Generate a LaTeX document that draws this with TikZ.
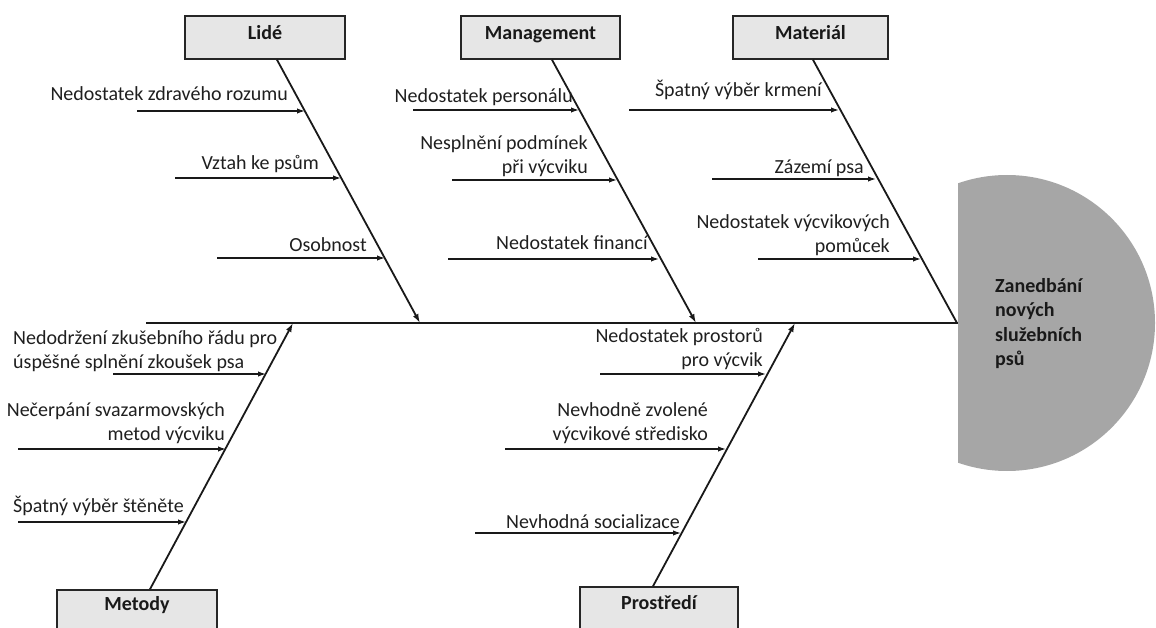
\documentclass[tikz,border=0pt]{standalone}
\usepackage{fontspec}
\setmainfont{Carlito}
\usetikzlibrary{arrows.meta}
\definecolor{boxgray}{HTML}{E6E6E6}
\definecolor{headgray}{HTML}{A6A6A6}
\newcommand{\rtwo}[2]{\begin{tabular}[t]{@{}r@{}}#1\\#2\end{tabular}}
\newcommand{\ltwo}[2]{\begin{tabular}[t]{@{}l@{}}#1\\#2\end{tabular}}
\begin{document}
\begin{tikzpicture}[x=1pt,y=-1pt,
  txt/.style={font=\fontsize{20}{24}\selectfont, inner sep=0pt, text=black!88},
  catbox/.style={draw=black!85, line width=1.6pt, fill=boxgray, inner sep=0pt,
    minimum height=43pt, font=\fontsize{20}{24}\selectfont\bfseries, text=black!90},
  topbox/.style={catbox, text height=12pt, text depth=7pt},
  botbox/.style={catbox, minimum height=44pt, text height=12pt, text depth=16pt},
  bone/.style={line width=1.8pt, draw=black!90},
  bonearr/.style={bone, -{Latex[length=9pt,width=6pt]}},
  sub/.style={line width=1.5pt, draw=black!90, -{Latex[length=8pt,width=5.5pt]}}]
\useasboundingbox (0,0) rectangle (1156,628);
\clip (0,0) rectangle (1156,628);

% category boxes
\node[topbox, minimum width=160pt] (lide) at (265,37.5) {Lidé};
\node[topbox, minimum width=159pt] (mgmt) at (540.5,37.5) {Management};
\node[topbox, minimum width=155pt] (mat) at (810.5,37.5) {Materiál};
\node[botbox, minimum width=160pt] (met) at (137,612) {Metody};
\node[botbox, minimum width=158pt, text depth=12pt] (pro) at (659,609) {Prostředí};

% spine
\coordinate (tail) at (146,323);
\coordinate (headw) at (958,323);
\draw[bone] (tail) -- (headw);

% bone ends on the spine
\coordinate (lend) at (420,323);
\coordinate (gend) at (696,323);
\coordinate (mend) at (957,323);
\coordinate (tend) at (293,323);
\coordinate (pend) at (795,323);
\draw[bonearr] ([xshift=12pt]lide.south) -- (lend);
\draw[bonearr] ([xshift=11.5pt]mgmt.south) -- (gend);
\draw[bone] ([xshift=2.5pt]mat.south) -- (mend);
\draw[bonearr] ([xshift=13pt]met.north) -- (tend);
\draw[bonearr] ([xshift=-6pt]pro.north) -- (pend);

% Lidé causes
\coordinate (a1s) at (137,111); \coordinate (a1e) at (305,111);
\coordinate (a2s) at (175,178); \coordinate (a2e) at (341,178);
\coordinate (a3s) at (217,258); \coordinate (a3e) at (385,258);
\draw[sub] (a1s) -- (a1e);
\draw[sub] (a2s) -- (a2e);
\draw[sub] (a3s) -- (a3e);
\node[txt, anchor=base east] (ta1) at (288,100.5) {Nedostatek zdravého rozumu};
\node[txt, anchor=base east] (ta2) at (319,170) {Vztah ke psům};
\node[txt, anchor=base east] (ta3) at (367,251.5) {Osobnost};

% Management causes
\coordinate (b1s) at (413,110); \coordinate (b1e) at (579,110);
\coordinate (b2s) at (452,180); \coordinate (b2e) at (617,180);
\coordinate (b3s) at (448,259); \coordinate (b3e) at (659,259);
\draw[sub] (b1s) -- (b1e);
\draw[sub] (b2s) -- (b2e);
\draw[sub] (b3s) -- (b3e);
\node[txt, anchor=base east] (tb1) at (573,103) {Nedostatek personálu};
\node[txt, anchor=base east] (tb2) at (588,150) {\rtwo{Nesplnění podmínek}{při výcviku}};
\node[txt, anchor=base east] (tb3) at (648,250) {Nedostatek financí};

% Materiál causes
\coordinate (c1s) at (629,110); \coordinate (c1e) at (839,110);
\coordinate (c2s) at (712,179); \coordinate (c2e) at (876,179);
\coordinate (c3s) at (758,259); \coordinate (c3e) at (921,259);
\draw[sub] (c1s) -- (c1e);
\draw[sub] (c2s) -- (c2e);
\draw[sub] (c3s) -- (c3e);
\node[txt, anchor=base east] (tc1) at (822,97) {Špatný výběr krmení};
\node[txt, anchor=base east] (tc2) at (864,174) {Zázemí psa};
\node[txt, anchor=base east] (tc3) at (890,229) {\rtwo{Nedostatek výcvikových}{pomůcek}};

% Metody causes
\coordinate (d1s) at (113,374); \coordinate (d1e) at (266,374);
\coordinate (d2s) at (18,449); \coordinate (d2e) at (226,449);
\coordinate (d3s) at (18,522); \coordinate (d3e) at (186,522);
\draw[sub] (d1s) -- (d1e);
\draw[sub] (d2s) -- (d2e);
\draw[sub] (d3s) -- (d3e);
\node[txt, anchor=base west] (td1) at (13,344) {\ltwo{Nedodržení zkušebního řádu pro}{úspěšné splnění zkoušek psa}};
\node[txt, anchor=base east] (td2) at (225,416) {\rtwo{Nečerpání svazarmovských}{metod výcviku}};
\node[txt, anchor=base west] (td3) at (13,512) {Špatný výběr štěněte};

% Prostředí causes
\coordinate (e1s) at (600,374); \coordinate (e1e) at (766,374);
\coordinate (e2s) at (505,449); \coordinate (e2e) at (726,449);
\coordinate (e3s) at (475,533); \coordinate (e3e) at (681,533);
\draw[sub] (e1s) -- (e1e);
\draw[sub] (e2s) -- (e2e);
\draw[sub] (e3s) -- (e3e);
\node[txt, anchor=base east] (te1) at (763,342) {\rtwo{Nedostatek prostorů}{pro výcvik}};
\node[txt, anchor=base east] (te2) at (708,416) {\rtwo{Nevhodně zvolené}{výcvikové středisko}};
\node[txt, anchor=base east] (te3) at (680,528) {Nevhodná socializace};

% head
\begin{scope}
  \clip (958,0) rectangle (1156,628);
  \fill[headgray] (1007,323) circle (148);
\end{scope}
\node[txt, anchor=base west, font=\fontsize{20}{24}\selectfont\bfseries, text=black!90] (head) at (995,293)
  {\begin{tabular}[t]{@{}l@{}}Zanedbání\\nových\\služebních\\psů\end{tabular}};
\end{tikzpicture}
\end{document}
